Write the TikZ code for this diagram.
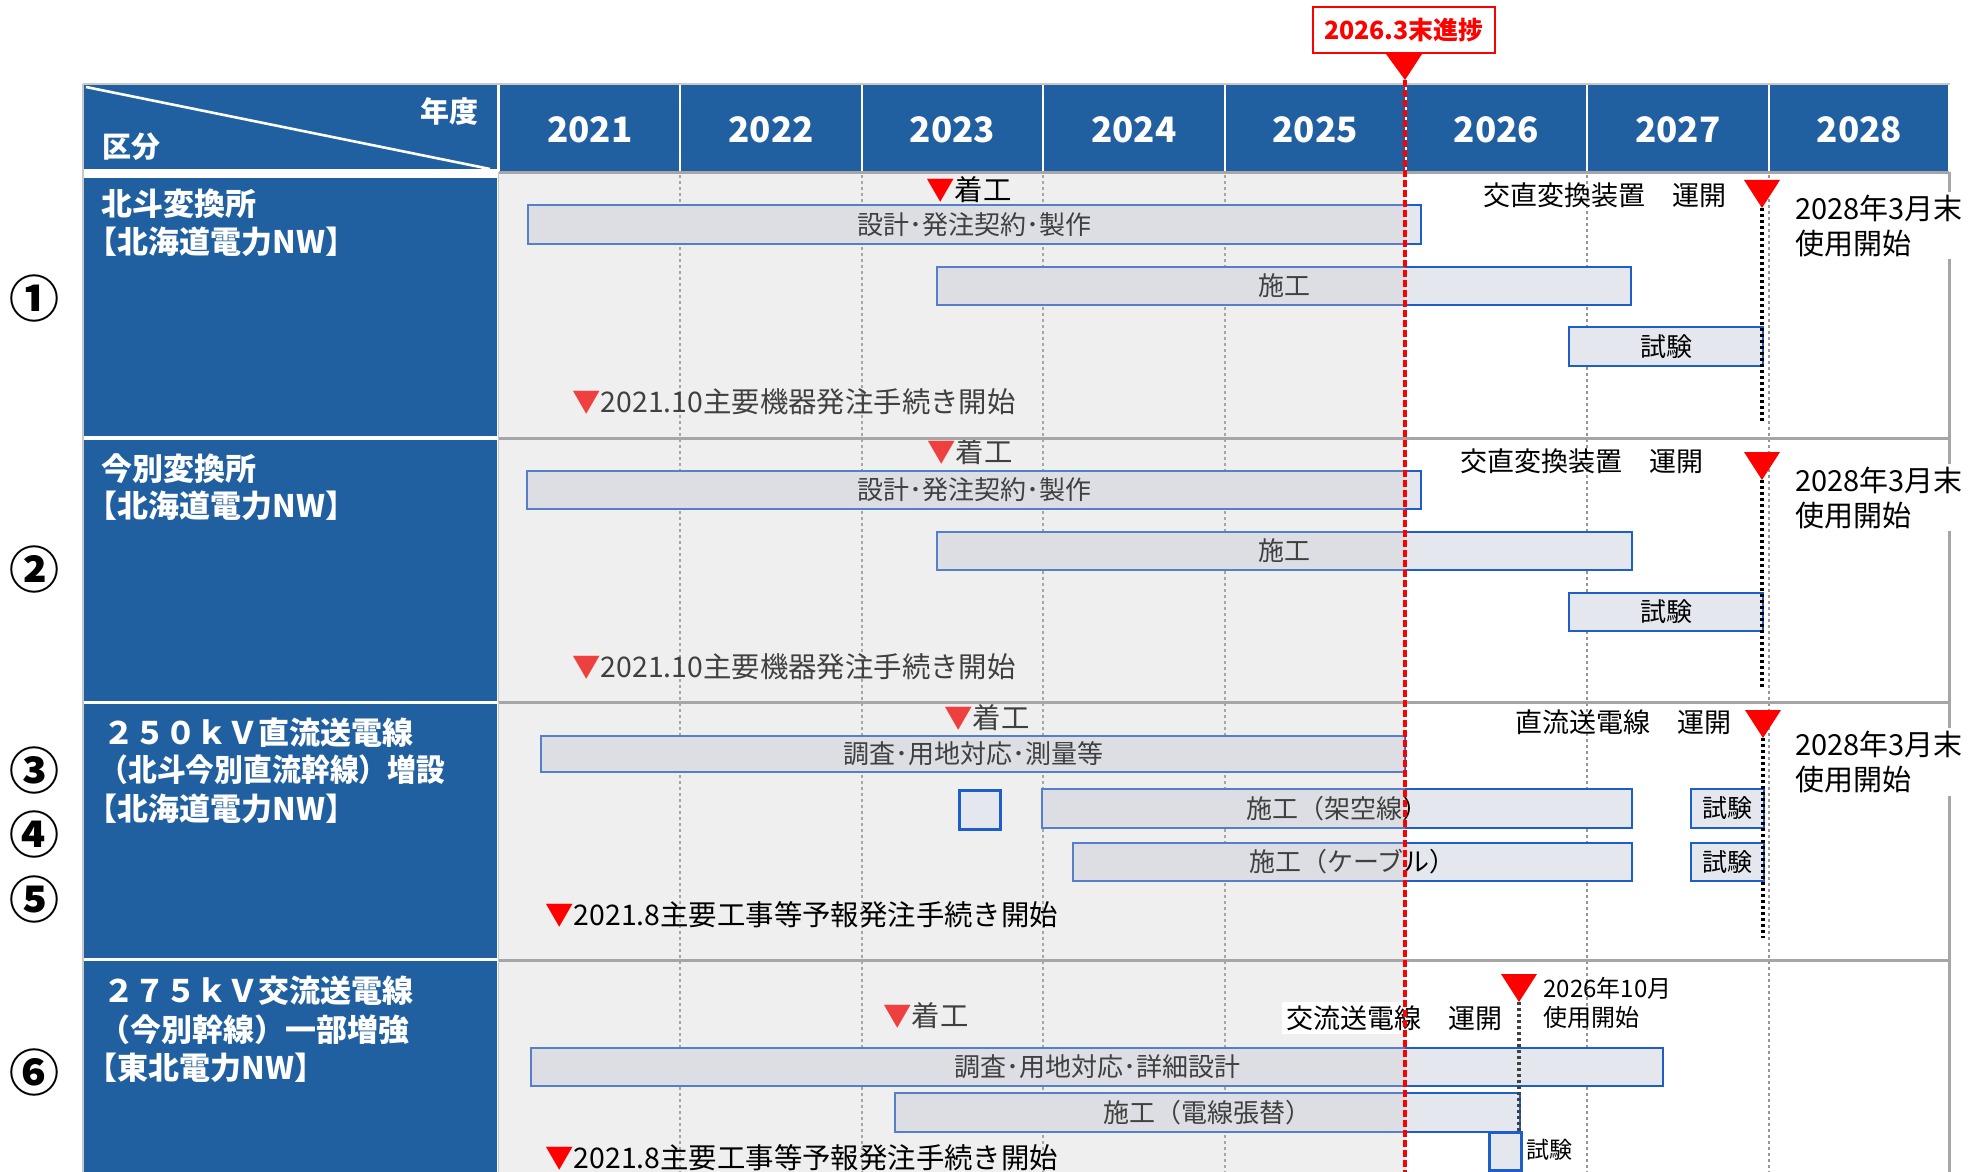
\documentclass[tikz,border=0pt]{standalone}
\usepackage{fontspec}
\setmainfont{Noto Sans CJK JP}
\usetikzlibrary{calc}
\definecolor{hdrblue}{RGB}{33,96,160}
\definecolor{barblue}{RGB}{30,94,200}
\definecolor{barfill}{RGB}{228,231,238}
\definecolor{gridgray}{RGB}{150,150,150}
\definecolor{sepgray}{RGB}{166,166,166}
\definecolor{bordergray}{RGB}{200,200,200}
\definecolor{ovl}{RGB}{204,204,204}
\definecolor{mred}{RGB}{255,0,0}
\definecolor{dkgray}{RGB}{64,64,64}
\newcommand\fz[1]{\fontsize{#1pt}{#1pt}\selectfont}
\newcommand\tri{\textcolor{mred}{▼}}
\tikzset{
  yeartxt/.style={text=white,font=\fz{17.5}\bfseries,inner sep=0pt},
  lefttxt/.style={text=white,font=\fz{15.5}\bfseries,anchor=west,inner sep=0pt},
  barbox/.style={draw=barblue,line width=1.25pt,fill=barfill},
  bartxt/.style={text=black,font=\fz{13},inner sep=0pt},
  lbl/.style={text=black,font=\fz{14.2},anchor=west,inner sep=0pt},
  gridln/.style={gridgray,line width=1pt,dash pattern=on 1.5pt off 1.5pt},
  secsep/.style={sepgray,line width=1.5pt},
  opline/.style={black,line width=1.6pt,dash pattern=on 1.5pt off 1.5pt},
  redln/.style={mred,line width=1.75pt,dash pattern=on 3.5pt off 1.5pt},
  circnum/.style={text=black,font=\fz{25}\bfseries,inner sep=0pt},
  endtxt/.style={text=black,font=\fontsize{14.5pt}{17.5pt}\selectfont,anchor=west,align=left,fill=white,inner sep=1.5pt},
}
\newcommand\gbar[6]{%
  \draw[barbox] (#2,#3) rectangle (#4,#5);
  \node[bartxt] (#1) at ({(#2+#4)/2},{(#3+#5)/2}) {#6};}
\newcommand\bigtri[1]{%
  \fill[mred] ($(#1)+(-18,-28)$) -- ($(#1)+(18,-28)$) -- (#1) -- cycle;}
\begin{document}
\begin{tikzpicture}[x=0.5pt,y=-0.5pt]
\useasboundingbox (0,0) rectangle (1972,1172);
% ---------- header
\fill[hdrblue] (84,85) rectangle (497,169);
\fill[hdrblue] (499,85) rectangle (1948,172);
\draw[bordergray,line width=1pt] (83,84) -- (1950,84);
\draw[white,line width=1.3pt] (86,87) -- (490,169);
\node[text=white,font=\fz{14.5}\bfseries,anchor=east,inner sep=0pt] (nendo) at (479,111) {年度};
\node[text=white,font=\fz{14.5}\bfseries,anchor=west,inner sep=0pt] (kubun) at (102,147) {区分};
\foreach \i in {0,...,7}{
  \pgfmathtruncatemacro\yr{2021+\i}
  \node[yeartxt] (y\yr) at ({499+181.375*(\i+0.5)},130) {\yr};
  \draw[white,line width=1pt] ({499+181.375*\i},85) -- ({499+181.375*\i},172);
}
% ---------- left column
\fill[hdrblue] (84,178) rectangle (497,436);
\fill[hdrblue] (84,440) rectangle (497,701);
\fill[hdrblue] (84,704) rectangle (497,958);
\fill[hdrblue] (84,961) rectangle (497,1172);
\draw[bordergray,line width=1pt] (83,84) -- (83,1172);
\draw[bordergray,line width=0.8pt] (498.5,172) -- (498.5,1172);
\node[lefttxt] (t1a) at (101,203.5) {北斗変換所};
\node[lefttxt] (t1b) at (86.5,242) {【北海道電力NW】};
\node[lefttxt] (t2a) at (101,468.5) {今別変換所};
\node[lefttxt] (t2b) at (86.5,506) {【北海道電力NW】};
\node[lefttxt] (t3a) at (103,732.5) {２５０ｋＶ直流送電線};
\node[lefttxt] (t3b) at (99,770) {\scalebox{0.93}[1]{（北斗今別直流幹線）増設}};
\node[lefttxt] (t3c) at (86.5,809) {【北海道電力NW】};
\node[lefttxt] (t4a) at (103,991) {２７５ｋＶ交流送電線};
\node[lefttxt] (t4b) at (99,1030) {（今別幹線）一部増強};
\node[lefttxt] (t4c) at (86.5,1068) {【東北電力NW】};
\node[circnum] (n1) at (34.5,298) {①};
\node[circnum] (n2) at (34.5,569.5) {②};
\node[circnum] (n3) at (34.5,770) {③};
\node[circnum] (n4) at (34.5,834) {④};
\node[circnum] (n5) at (34.5,899) {⑤};
\node[circnum] (n6) at (34.5,1072) {⑥};
% ---------- grid
\foreach \x in {680.375,861.75,1043.125,1224.5,1587.25,1768.625}
  \draw[gridln] (\x,175) -- (\x,1172);
% ---------- bars under the past overlay
\gbar{b1a}{528}{205}{1421}{244}{設計･発注契約･製作}
\gbar{b1b}{937}{267}{1631}{305}{施工}
\gbar{b2a}{527}{471}{1421}{509}{設計･発注契約･製作}
\gbar{b2b}{937}{532}{1632}{570}{施工}
\gbar{b3a}{541}{736}{1405}{772}{調査･用地対応･測量等}
\gbar{b3c}{1042}{789}{1632}{828}{施工（架空線）}
\gbar{b3d}{1073}{843}{1632}{881}{施工（ケーブル）}
\gbar{b4a}{531}{1048}{1663}{1086}{調査･用地対応･詳細設計}
\gbar{b4b}{895}{1093}{1520}{1132}{施工（電線張替）}
\node[lbl] (k2) at (927,452) {\tri 着工};
\node[lbl] (k3) at (944,718) {\tri 着工};
\node[lbl] (k4) at (883,1016) {\tri 着工};
\node[lbl] (p1) at (572,402) {\tri 2021.10主要機器発注手続き開始};
\node[lbl] (p2) at (572,667) {\tri 2021.10主要機器発注手続き開始};
% ---------- overlay (past period)
\fill[ovl,fill opacity=0.314] (499,174) rectangle (1405,1172);
% ---------- separators
\draw[secsep] (499,173) -- (1949,173);
\draw[secsep] (499,438) -- (1949,438);
\draw[secsep] (499,702.5) -- (1949,702.5);
\draw[secsep] (499,960) -- (1949,960);
\draw[secsep] (1949,172) -- (1949,1172);
% ---------- items on top
\node[lbl] (k1) at (926,190) {\tri 着工};
\node[barbox,inner sep=0pt,minimum width=20.5pt,minimum height=19.5pt,anchor=north west] (b3b) at (958,789) {};
\node[lbl] (p3) at (545,915) {\tri 2021.8主要工事等予報発注手続き開始};
\node[lbl] (p4) at (545,1158) {\tri 2021.8主要工事等予報発注手続き開始};
\gbar{b1c}{1569}{327}{1763}{366}{試験}
\gbar{b2c}{1569}{593}{1763}{631}{試験}
\draw[barbox] (1691,789) rectangle (1764,828);
\node[bartxt,font=\fz{12.5}] (b3e) at (1727.5,808.5) {試験};
\draw[barbox] (1691,843) rectangle (1764,881);
\node[bartxt,font=\fz{12.5}] (b3f) at (1727.5,862) {試験};
\node[barbox,inner sep=0pt,minimum width=16pt,minimum height=19pt,anchor=north west] (b4c) at (1488,1131) {};
\node[lbl,font=\fz{11.5}] (t4s) at (1526,1150) {試験};
% ---------- operation markers
\node[lbl,font=\fz{13.5}] (o1) at (1483,195) {交直変換装置　運開};
\node[lbl,font=\fz{13.5}] (o2) at (1460,461) {交直変換装置　運開};
\node[lbl,font=\fz{13.5}] (o3) at (1515,722) {直流送電線　運開};
\node[lbl,font=\fz{13.5},fill=white,inner sep=2pt] (o4) at (1282,1018) {交流送電線　運開};
\coordinate (m1) at (1762,208); \coordinate (m1e) at (1762,423);
\coordinate (m2) at (1762,480); \coordinate (m2e) at (1762,688);
\coordinate (m3) at (1763,738); \coordinate (m3e) at (1763,938);
\coordinate (m4) at (1519,1002); \coordinate (m4e) at (1519,1133);
\draw[opline] (m1) -- (m1e);
\draw[opline] (m2) -- (m2e);
\draw[opline] (m3) -- (m3e);
\draw[opline,dkgray] (m4) -- (m4e);
\bigtri{m1}\bigtri{m2}\bigtri{m3}\bigtri{m4}
\node[endtxt] (e1) at (1792,225.5) {2028年3月末\\使用開始};
\node[endtxt] (e2) at (1792,497.5) {2028年3月末\\使用開始};
\node[endtxt] (e3) at (1792,762) {2028年3月末\\使用開始};
\node[lbl,font=\fontsize{12pt}{14.5pt}\selectfont,align=left] (e4) at (1543,1002.5) {2026年10月\\使用開始};
% ---------- progress line and callout
\node[draw=mred,line width=1pt,fill=white,text=mred,font=\fz{12.5}\bfseries,minimum width=91pt,minimum height=23pt,inner sep=0pt] (cb) at (1404,30) {2026.3末進捗};
\coordinate (ca) at (1405,80);
\coordinate (rb) at (1405,1172);
\draw[redln] (ca) -- (rb);
\fill[mred] ($(cb.south)+(-18,0)$) -- ($(cb.south)+(18,0)$) -- (ca) -- cycle;
\end{tikzpicture}
\end{document}
